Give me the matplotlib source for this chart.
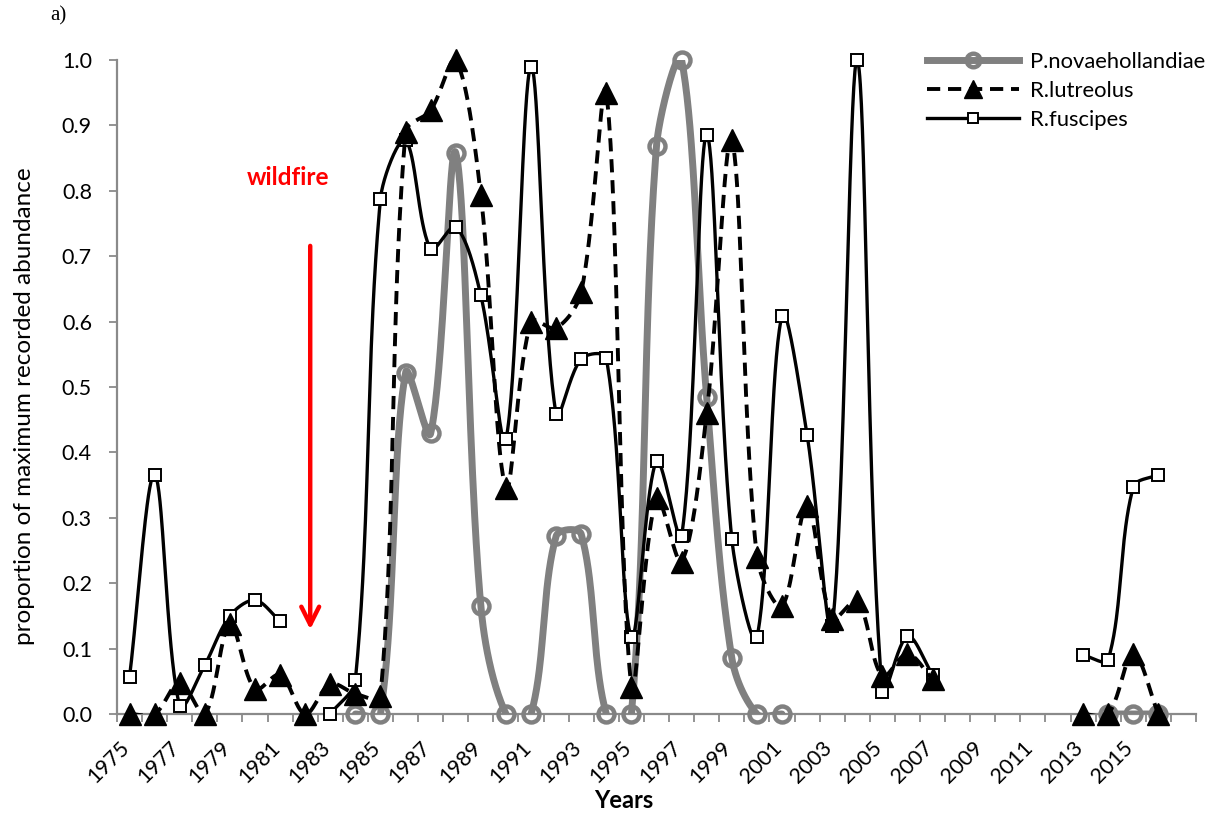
import numpy as np
import matplotlib

matplotlib.use("Agg")
import matplotlib.pyplot as plt
from matplotlib.lines import Line2D
from matplotlib.transforms import ScaledTranslation

nan = np.nan

years = list(range(1975, 2017))

novaehollandiae = [
    nan, nan, nan, nan, nan, nan, nan, nan, nan,
    0.0, 0.0, 0.522, 0.429, 0.858, 0.165, 0.0, 0.0, 0.272, 0.275, 0.0,
    0.0, 0.869, 1.0, 0.484, 0.086, 0.0, 0.0,
    nan, nan, nan, nan, nan, nan, nan, nan, nan, nan, nan, nan,
    0.0, 0.0, 0.0,
]
lutreolus = [
    0.0, 0.0, 0.048, 0.0, 0.137, 0.038, 0.060, 0.0, 0.046, 0.031,
    0.027, 0.890, 0.923, 1.0, 0.793, 0.346, 0.600, 0.590, 0.645, 0.950,
    0.042, 0.330, 0.233, 0.460, 0.877, 0.240, 0.165, 0.318, 0.146, 0.173,
    0.058, 0.092, 0.053,
    nan, nan, nan, nan, nan,
    0.0, 0.0, 0.092, 0.0,
]
fuscipes = [
    0.057, 0.366, 0.012, 0.075, 0.150, 0.174, 0.142, nan, 0.0, 0.052,
    0.788, 0.877, 0.711, 0.745, 0.640, 0.420, 0.990, 0.458, 0.543, 0.544,
    0.118, 0.387, 0.272, 0.885, 0.268, 0.117, 0.609, 0.427, 0.134, 1.0,
    0.034, 0.119, 0.060,
    nan, nan, nan, nan, nan,
    0.090, 0.083, 0.347, 0.366,
]

series_names = ["P.novaehollandiae", "R.lutreolus", "R.fuscipes"]
tick_years = list(range(1975, 2016, 2))

FONT = "Lato"
GREY = "#808080"
AXIS_GREY = "#8a8a8a"


def excel_smooth(ax, xs, ys, n=40):
    # bezier smoothing done in screen space, tangents weighted by segment length
    pts = ax.transData.transform(np.column_stack([xs, ys]))
    ok = np.isfinite(np.asarray(ys, float))
    t = np.linspace(0, 1, n)[:, None]
    out = []
    i = 0
    while i < len(ok):
        if not ok[i]:
            i += 1
            continue
        j = i
        while j < len(ok) and ok[j]:
            j += 1
        run = pts[i:j]
        m = len(run)
        for k in range(m - 1):
            p0 = run[max(k - 1, 0)]
            p1 = run[k]
            p2 = run[k + 1]
            p3 = run[min(k + 2, m - 1)]
            d01 = np.hypot(*(p1 - p0))
            d12 = np.hypot(*(p2 - p1))
            d23 = np.hypot(*(p3 - p2))
            c1 = p1 + (p2 - p0) * d12 / (d01 + d12) / 3
            c2 = p2 - (p3 - p1) * d12 / (d12 + d23) / 3
            b = ((1 - t) ** 3) * p1 + 3 * ((1 - t) ** 2) * t * c1 \
                + 3 * (1 - t) * t ** 2 * c2 + t ** 3 * p2
            out.append(b)
        out.append(np.array([[nan, nan]]))
        i = j
    curve = np.vstack(out)
    good = np.isfinite(curve[:, 0])
    data = np.full_like(curve, nan)
    data[good] = ax.transData.inverted().transform(curve[good])
    return data[:, 0], data[:, 1]


styles = [
    dict(color=GREY, lw=5.0, ls="-", marker="o", ms=11.5, mfc="none",
         mec=GREY, mew=3.2, z=3),
    dict(color="black", lw=2.8, ls=(0, (3.4, 2.0)), marker="^", ms=16,
         mfc="black", mec="black", mew=1.0, z=5),
    dict(color="black", lw=2.4, ls="-", marker="s", ms=9, mfc="white",
         mec="black", mew=1.4, z=4),
]

fig = plt.figure(figsize=(12.11, 8.14), dpi=100)
ax = fig.add_axes([117 / 1211, 100 / 814, 1079 / 1211, 654 / 814])
ax.set_xlim(1974.5, 2017.5)
ax.set_ylim(0, 1.0)

handles = []
for name, values, st in zip(series_names, [novaehollandiae, lutreolus, fuscipes], styles):
    sx, sy = excel_smooth(ax, years, values)
    ax.plot(sx, sy, color=st["color"], lw=st["lw"], ls=st["ls"],
            zorder=st["z"], solid_capstyle="round", dash_capstyle="butt")
    ax.plot(years, values, ls="none", marker=st["marker"], ms=st["ms"],
            mfc=st["mfc"], mec=st["mec"], mew=st["mew"], zorder=st["z"] + 0.5,
            clip_on=False)
    handles.append(Line2D([], [], color=st["color"], lw=st["lw"], ls=st["ls"],
                          marker=st["marker"], ms=st["ms"] * 0.85, mfc=st["mfc"],
                          mec=st["mec"], mew=st["mew"], label=name))

ax.set_yticks(np.arange(0, 1.01, 0.1))
ax.set_yticklabels([f"{v:.1f}" for v in np.arange(0, 1.01, 0.1)],
                   fontsize=15.5, family=FONT)
ax.set_xticks(tick_years)
ax.set_xticklabels([str(y) for y in tick_years], rotation=45, ha="right",
                   va="top", fontsize=15.5, family=FONT)
ax.set_xticks(np.arange(1974.5, 2018, 1), minor=True)
ax.tick_params(axis="x", which="major", length=0, pad=17)
ax.tick_params(axis="x", which="minor", length=6, width=1.3, color=AXIS_GREY,
               direction="out")
ax.tick_params(axis="y", length=6, width=1.3, color=AXIS_GREY, pad=12)
offset = ScaledTranslation(4 / 100, 0, fig.dpi_scale_trans)
for lab in ax.get_xticklabels():
    lab.set_transform(lab.get_transform() + offset)

for side in ["top", "right"]:
    ax.spines[side].set_visible(False)
for side in ["left", "bottom"]:
    ax.spines[side].set_color(AXIS_GREY)
    ax.spines[side].set_linewidth(1.6)

fig.text(25 / 1211, 1 - 406 / 814, "proportion of maximum recorded abundance",
         rotation=90, ha="center", va="center", fontsize=17.5, family=FONT)
fig.text(624 / 1211, 1 - 800 / 814, "Years", ha="center", va="center",
         fontsize=17, fontweight="bold", family=FONT)
fig.text(58 / 1211, 1 - 16 / 814, "a)", ha="center", va="center",
         fontsize=15, family="Liberation Serif")

# wildfire marker
ax.annotate("", xy=(1982.2, 0.125), xytext=(1982.2, 0.72),
            arrowprops=dict(arrowstyle="->", color="red", lw=3.2,
                            mutation_scale=32), zorder=6)
ax.text(1981.3, 0.82, "wildfire", color="red", fontsize=17.5,
        fontweight="bold", family=FONT, ha="center", va="center")

leg = fig.legend(handles=handles, loc="upper left",
                 bbox_to_anchor=(927 / 1211, 1 - 52 / 814), frameon=False,
                 borderpad=0, borderaxespad=0, handlelength=4.2,
                 handletextpad=0.5, labelspacing=0.4,
                 prop={"family": FONT, "size": 15.8})

fig.savefig("out.png", dpi=100)
